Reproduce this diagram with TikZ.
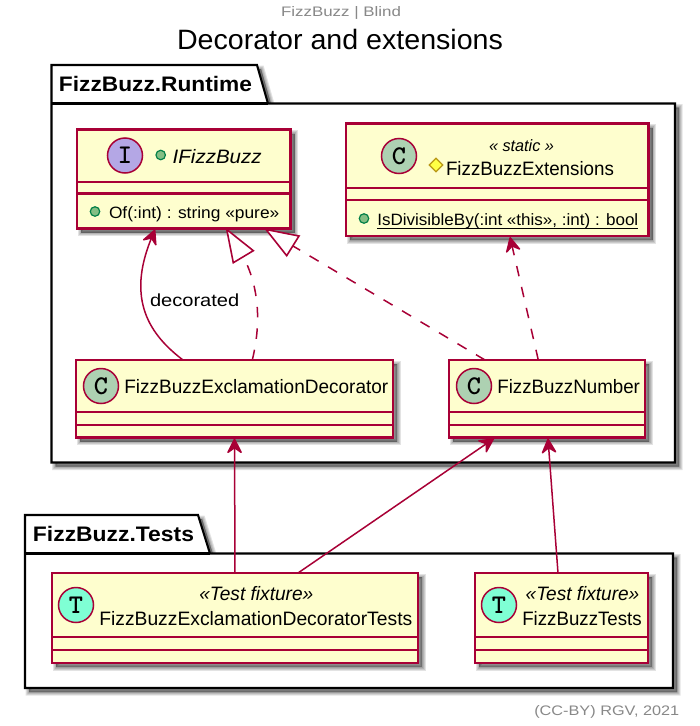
\documentclass[tikz,border=0pt]{standalone}
\usepackage{fontspec}
\usepackage{graphicx}
\usetikzlibrary{arrows.meta,shapes.geometric}
\setmainfont{Liberation Sans}
\definecolor{umlred}{HTML}{A80036}
\definecolor{umlfill}{HTML}{FEFECE}
\definecolor{greytext}{HTML}{888888}
\definecolor{badgeI}{RGB}{180,167,229}
\definecolor{badgeC}{RGB}{173,209,178}
\definecolor{badgeT}{RGB}{127,255,212}
\definecolor{visline}{RGB}{3,128,72}
\definecolor{visfill}{RGB}{132,190,132}
\definecolor{diaLine}{RGB}{184,150,20}
\definecolor{diaFill}{RGB}{255,255,68}
\newcommand{\wtxt}[2]{\resizebox{#1pt}{\height}{#2}}
\newcommand{\softshadow}[1]{\foreach \w in {7,5,3,1}{\path[fill=black,draw=black,fill opacity=.11,draw opacity=.11,line width=\w pt,shift={(4,4)}] #1;}}
\tikzset{
  umlclass/.style={draw=umlred,fill=umlfill,line width=2.2pt,rectangle,inner sep=0pt,outer sep=0pt,anchor=north west},
  divider/.style={draw=umlred,line width=2.1pt},
  pkgline/.style={draw=black,fill=white,line width=2.1pt,line join=miter},
  badge/.style={circle,draw=umlred,line width=1.5pt,minimum size=35pt,inner sep=0pt,font=\fontsize{27}{27}\ttfamily\bfseries},
  vis/.style={circle,draw=visline,fill=visfill,line width=1.2pt,minimum size=9.5pt,inner sep=0pt},
  lbl/.style={inner sep=0pt,outer sep=0pt,anchor=base west,font=\fontsize{19.4}{20}\selectfont,text=black},
  member/.style={lbl,font=\fontsize{16.4}{18}\selectfont},
  pkgtitle/.style={lbl,font=\fontsize{21}{24}\bfseries},
  small/.style={lbl,font=\fontsize{13.8}{15}\selectfont,text=greytext},
  assoc/.style={draw=umlred,line width=1.5pt,-{Stealth[length=17pt,width=17pt,inset=6pt,round]}},
  dep/.style={assoc,dash pattern=on 10.5pt off 11pt},
  real/.style={draw=umlred,line width=1.5pt,dash pattern=on 10.5pt off 11pt},
  hollow/.style={draw=umlred,fill=white,line width=1.6pt,line join=miter}
}
\begin{document}
\begin{tikzpicture}[x=1pt,y=-1pt]
\useasboundingbox (0,0) rectangle (700,726);
\fill[white] (0,0) rectangle (700,726);
% header and title
\node[small] (hdr) at (281,16) {\wtxt{120}{FizzBuzz | Blind}};
\node[lbl,font=\fontsize{28}{30}\selectfont,text=black] (title) at (177,49) {\wtxt{326}{Decorator and extensions}};
\node[small] (ftr) at (534.3,715) {\wtxt{145}{(CC-BY) RGV, 2021}};
% packages
\softshadow{(51.5,65)--(257,65)--(268,103.5)--(675,103.5)--(675,462.5)--(51.5,462.5)--cycle}
\path[pkgline] (51.5,65)--(257,65)--(268,103.5)--(675,103.5)--(675,462.5)--(51.5,462.5)--cycle;
\draw[line width=2.1pt] (51.5,103.5)--(268,103.5);
\node[pkgtitle] (pkgrt) at (59,91.5) {\wtxt{193}{FizzBuzz.Runtime}};
\softshadow{(25,515)--(198,515)--(210,553.5)--(673,553.5)--(673,688)--(25,688)--cycle}
\path[pkgline] (25,515)--(198,515)--(210,553.5)--(673,553.5)--(673,688)--(25,688)--cycle;
\draw[line width=2.1pt] (25,553.5)--(210,553.5);
\node[pkgtitle] (pkgts) at (33,541) {\wtxt{161}{FizzBuzz.Tests}};
% shadows of classes
\softshadow{(77,129.5) rectangle (290.5,228.5)}
\softshadow{(346,123.5) rectangle (648.5,236)}
\softshadow{(76,360) rectangle (393,437.5)}
\softshadow{(449,360) rectangle (645,437.5)}
\softshadow{(52,573) rectangle (418,663)}
\softshadow{(475,573) rectangle (648,663)}
% classes
\node[umlclass,minimum width=213.5pt,minimum height=99pt] (ifb) at (77,129.5) {};
\node[umlclass,minimum width=302.5pt,minimum height=112.5pt] (ext) at (346,123.5) {};
\node[umlclass,minimum width=317pt,minimum height=77.5pt] (dec) at (76,360) {};
\node[umlclass,minimum width=196pt,minimum height=77.5pt] (num) at (449,360) {};
\node[umlclass,minimum width=366pt,minimum height=90pt] (dect) at (52,573) {};
\node[umlclass,minimum width=173pt,minimum height=90pt] (fbt) at (475,573) {};
% dividers
\foreach \n/\a/\b in {ifb/182/193.5,ext/187.7/200.3,dec/411.7/424.7,num/411.7/424.7,dect/637/650,fbt/637/650}{
  \draw[divider] (\n.west |- 0,\a) -- (\n.east |- 0,\a);
  \draw[divider] (\n.west |- 0,\b) -- (\n.east |- 0,\b);
}
% badges
\node[badge,fill=badgeI] (bi) at (125,155.5) {I};
\node[badge,fill=badgeC] (be) at (399,156) {C};
\node[badge,fill=badgeC] (bd) at (101,386) {C};
\node[badge,fill=badgeC] (bn) at (474,386) {C};
\node[badge,fill=badgeT] (bdt) at (76,605) {T};
\node[badge,fill=badgeT] (bt) at (499,605) {T};
% visibility marks
\node[vis] (v1) at (160.7,155) {};
\node[vis] (v2) at (95,211.5) {};
\node[vis] (v3) at (364,218.5) {};
\node[diamond,draw=diaLine,fill=diaFill,line width=1.2pt,minimum size=14pt,inner sep=0pt] (v4) at (436,165) {};
% labels
\node[lbl] (t1) at (172.7,163.3) {\wtxt{89}{\itshape IFizzBuzz}};
\node[member] (t2) at (109,218.3) {\wtxt{170.3}{Of(:int) : string «pure»}};
\node[member,font=\fontsize{16.4}{18}\itshape] (t3) at (489,151.7) {\wtxt{65}{« static »}};
\node[lbl] (t4) at (446,175) {\wtxt{168}{FizzBuzzExtensions}};
\node[member] (t5) at (377.3,225) {\wtxt{261}{IsDivisibleBy(:int «this», :int) : bool}};
\draw[line width=1pt] (t5.base west) ++(0,3) -- ++(261,0);
\node[lbl] (t6) at (124.3,393.3) {\wtxt{264}{FizzBuzzExclamationDecorator}};
\node[lbl] (t7) at (497.3,393.3) {\wtxt{142.7}{FizzBuzzNumber}};
\node[lbl] (t8) at (199.3,600.7) {\wtxt{114}{\itshape «Test fixture»}};
\node[lbl] (t9) at (99.3,625) {\wtxt{313}{FizzBuzzExclamationDecoratorTests}};
\node[lbl] (t10) at (525.7,600.7) {\wtxt{113.6}{\itshape «Test fixture»}};
\node[lbl] (t11) at (522.3,625) {\wtxt{119.4}{FizzBuzzTests}};
\node[lbl,font=\fontsize{17.5}{19}\selectfont] (t12) at (150,306) {\wtxt{89.3}{decorated}};
% connectors
\coordinate (r1base) at (243.3,256.7);
\coordinate (r2base) at (293,246);
\draw[assoc] ([xshift=-51.5pt]dec.north) .. controls (150,335) and (126,300) .. ([xshift=-28.75pt,yshift=-1pt]ifb.south);
\draw[real] ([xshift=17.8pt]dec.north) .. controls (262,320) and (258,285) .. (r1base);
\draw[real] ([xshift=-62pt]num.north) -- (r2base);
\draw[hollow] ([xshift=43pt,yshift=-1pt]ifb.south) -- (253.3,250.7) -- (233.3,262.7) -- cycle;
\draw[hollow] ([xshift=82.25pt,yshift=-1pt]ifb.south) -- (299,236) -- (286.7,255.7) -- cycle;
\draw[dep] ([xshift=-8.7pt]num.north) -- ([xshift=12.75pt,yshift=-1pt]ext.south);
\draw[assoc] (dect.north) -- ([yshift=-1pt]dec.south);
\draw[assoc] ([xshift=63pt]dect.north) -- ([xshift=-53pt,yshift=-1pt]num.south);
\draw[assoc] ([xshift=-3.5pt]fbt.north) -- ([xshift=1pt,yshift=-1pt]num.south);
\end{tikzpicture}
\end{document}
